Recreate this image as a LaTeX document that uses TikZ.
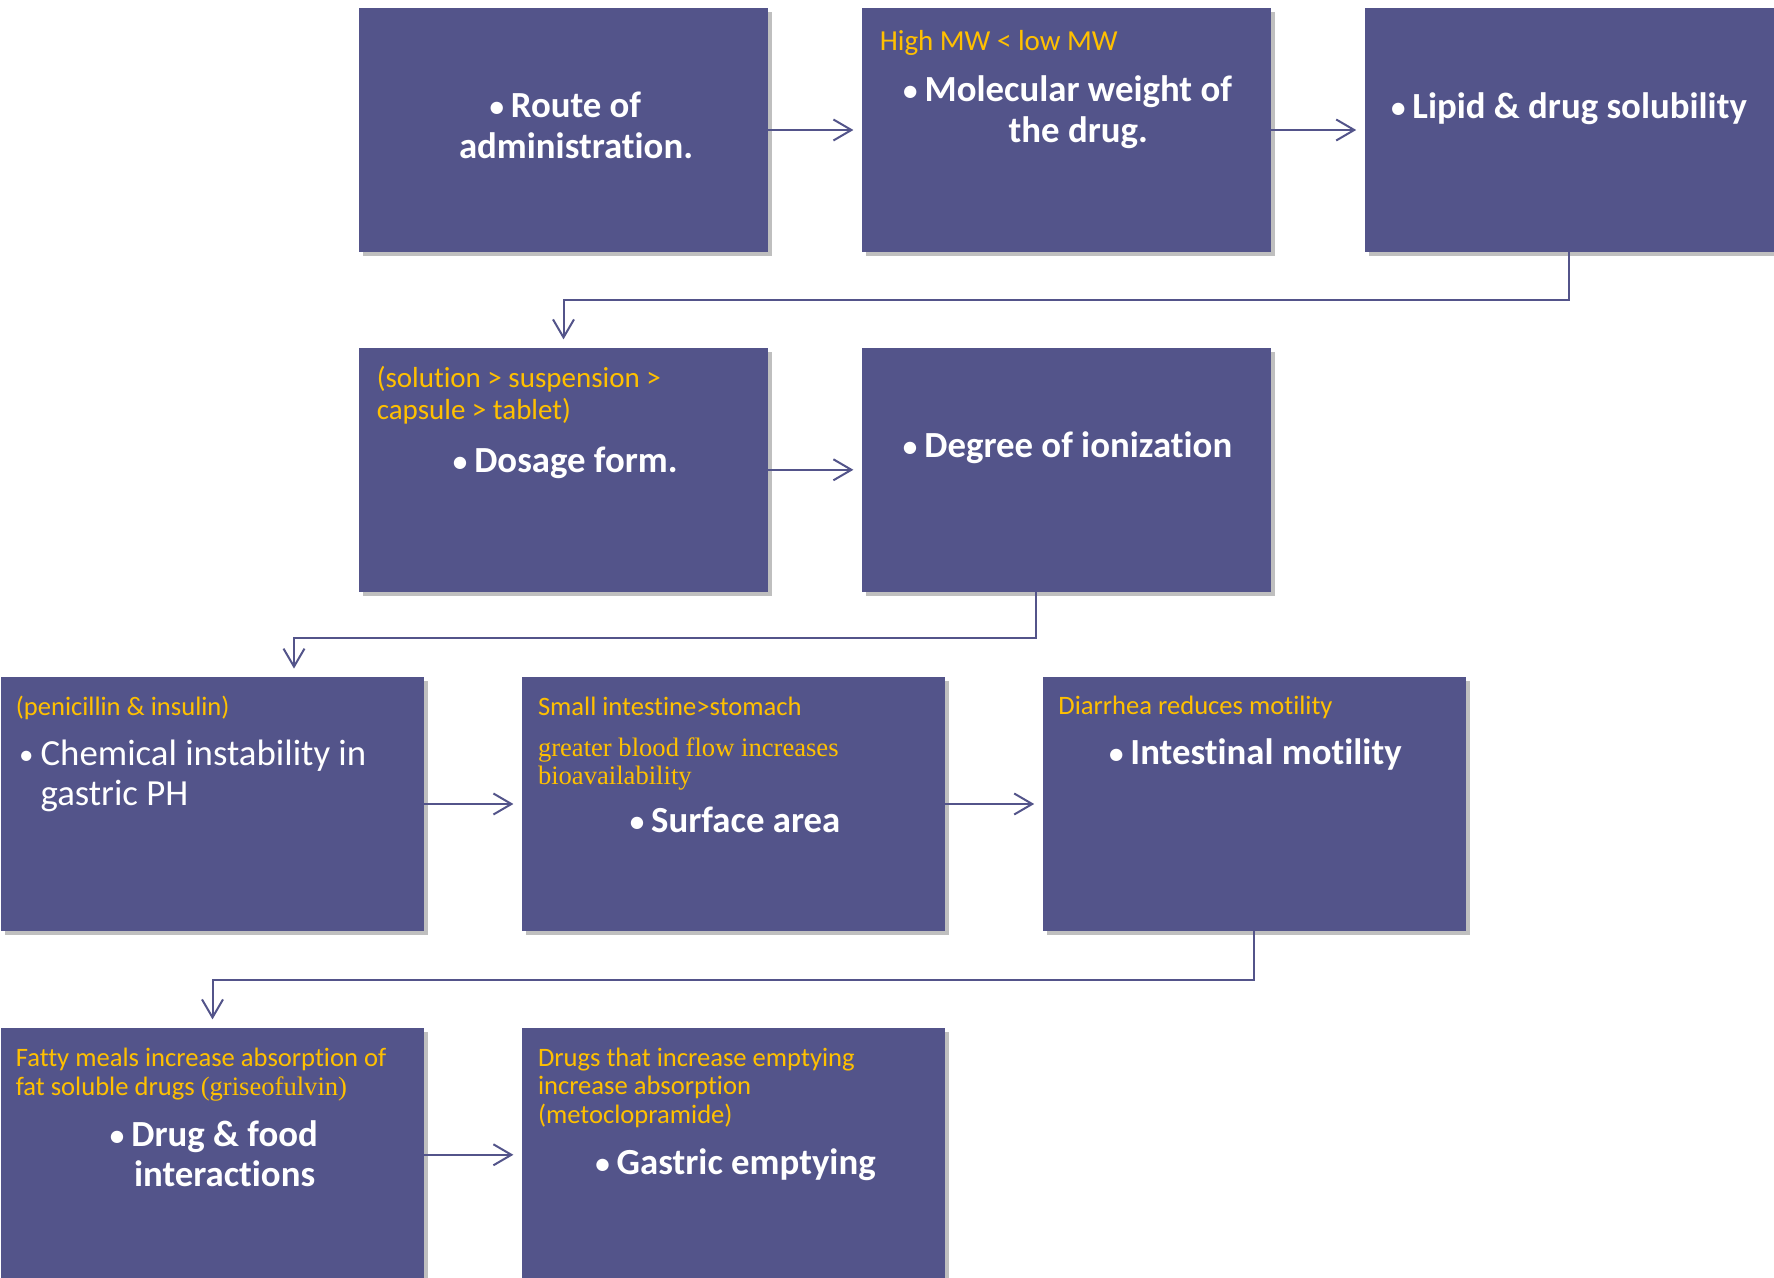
\documentclass[tikz,border=0pt]{standalone}
\usepackage{fontspec}
\setmainfont{Carlito}[Ligatures=NoCommon]
\newfontfamily\timesfont{Liberation Serif}
\usetikzlibrary{positioning,shadows,arrows.meta}
\definecolor{boxblue}{HTML}{53548A}
\definecolor{gold}{HTML}{FFC000}
\tikzstyle{boxes} = [rectangle, minimum width=204.5pt, minimum height=122pt, inner sep=0pt, fill=boxblue,
drop shadow={shadow xshift=2pt, shadow yshift=-2pt, fill=black, opacity=0.25}]
\tikzstyle{wideboxes} = [boxes, minimum width=211.5pt, minimum height=127pt]
\tikzstyle{bullettext} = [text=white, font=\fontsize{18.4}{20.4}\selectfont\bfseries, align=center, inner sep=0pt]
\tikzstyle{normaltext} = [text=white, font=\fontsize{18.4}{20.4}\selectfont, align=left, inner sep=0pt, anchor=west]
\tikzstyle{note} = [text=gold, font=\fontsize{14.5}{15.8}\selectfont, align=left, inner sep=0pt, anchor=west]
\tikzstyle{smallnote} = [note, font=\fontsize{13.3}{14.1}\selectfont]
\tikzstyle{arrow} = [draw=boxblue, line width=1pt, -{Straight Barb[length=9pt, width=10.5pt]}, shorten >=4pt]
\newcommand{\bulletbox}{\makebox[10.7pt][l]{\fontsize{14.5}{14.5}\selectfont\raisebox{0.5pt}{\textbullet}}}
\newcommand{\bul}{\llap{\bulletbox}}

\begin{document}
\begin{tikzpicture}
            \useasboundingbox (0,0) rectangle (887pt,-639pt);
            % Draw Boxes
            \node(route) [boxes] at (281.75pt,-65pt) {};
            \node(weight) [boxes, right=46.5pt of route] {};
            \node(lipid) [boxes, right=46.5pt of weight] {};
            \node(dosage) [boxes, below=47.5pt of route] {};
            \node(ionization) [boxes, right=46.5pt of dosage] {};
            \node(chemical) [wideboxes] at (106.25pt,-402pt) {};
            \node(surface) [wideboxes, right=48.5pt of chemical] {};
            \node(motility) [wideboxes, right=48.5pt of surface] {};
            \node(food) [wideboxes, below=48pt of chemical] {};
            \node(emptying) [wideboxes, right=48.5pt of food] {};

            % Draw Texts
            \node(routetext) [bullettext] at ([shift={(6.25pt,2.2pt)}]route.center) {\bul Route of\\administration.};
            \node(weightnote) [note] at ([shift={(9pt,-17.5pt)}]weight.north west) {High MW < low MW};
            \node(weighttext) [bullettext] at ([shift={(6pt,9pt)}]weight.center) {\bul Molecular weight of\\the drug.};
            \node(lipidtext) [bullettext] at ([shift={(5.25pt,10.7pt)}]lipid.center) {\bul Lipid \& drug solubility};
            \node(dosagenote) [note] at ([shift={(8.9pt,-23.9pt)}]dosage.north west) {(solution > suspension >\\capsule > tablet)};
            \node(dosagetext) [bullettext] at ([shift={(6.25pt,3.7pt)}]dosage.center) {\bul Dosage form.};
            \node(ionizationtext) [bullettext] at ([shift={(6pt,11.1pt)}]ionization.center) {\bul Degree of ionization};
            \node(chemicalnote) [smallnote] at ([shift={(7.4pt,-15.6pt)}]chemical.north west) {(penicillin \& insulin)};
            \node(chemicaltext) [normaltext] at ([shift={(9.1pt,-49.6pt)}]chemical.north west) {\bulletbox Chemical instability in\\\hspace*{10.7pt}gastric PH};
            \node(surfacenote) [smallnote] at ([shift={(8.1pt,-15pt)}]surface.north west) {Small intestine>stomach};
            \node(surfaceserif) [smallnote, font=\timesfont\fontsize{13.3}{14.1}\selectfont] at ([shift={(8.1pt,-43.6pt)}]surface.north west) {greater blood flow increases\\bioavailability};
            \node(surfacetext) [bullettext] at ([shift={(6.25pt,-8.1pt)}]surface.center) {\bul Surface area};
            \node(motilitynote) [smallnote] at ([shift={(7.9pt,-15.6pt)}]motility.north west) {Diarrhea reduces motility};
            \node(motilitytext) [bullettext] at ([shift={(5.95pt,24.7pt)}]motility.center) {\bul Intestinal motility};
            \node(foodnote) [smallnote] at ([shift={(7.4pt,-23.6pt)}]food.north west) {Fatty meals increase absorption of\\fat soluble drugs {\timesfont (griseofulvin)}};
            \node(foodtext) [bullettext] at ([shift={(6.05pt,0.5pt)}]food.center) {\bul Drug \& food\\interactions};
            \node(emptyingnote) [smallnote] at ([shift={(8.1pt,-30.2pt)}]emptying.north west) {Drugs that increase emptying\\increase absorption\\(metoclopramide)};
            \node(emptyingtext) [bullettext] at ([shift={(6.45pt,-5.1pt)}]emptying.center) {\bul Gastric emptying};

            % Draw Arrows
            \draw[arrow] (route) -- (weight);
            \draw[arrow] (weight) -- (lipid);
            \draw[arrow] (lipid.south) -- ++(0,-24pt) -| (dosage.north);
            \draw[arrow] (dosage) -- (ionization);
            \draw[arrow] ([xshift=-15.25pt]ionization.south) -- ++(0,-23pt) -| ([xshift=40.75pt]chemical.north);
            \draw[arrow] (chemical) -- (surface);
            \draw[arrow] (surface) -- (motility);
            \draw[arrow] (motility.south) -- ++(0,-24.5pt) -| (food.north);
            \draw[arrow] (food) -- (emptying);
        \end{tikzpicture}
\end{document}
